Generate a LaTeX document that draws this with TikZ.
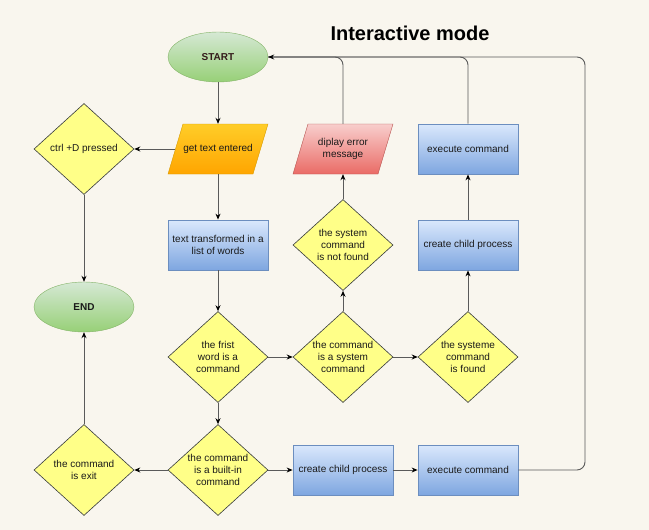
\documentclass[tikz,border=0pt]{standalone}
\usepackage{fontspec}
\setmainfont{Liberation Sans}
\usetikzlibrary{shapes.geometric,arrows.meta}
\definecolor{bg}{HTML}{F9F6EE}
\definecolor{gtop}{HTML}{D5E8D4}\definecolor{gbot}{HTML}{97D077}\definecolor{gline}{HTML}{82B366}
\definecolor{btop}{HTML}{DAE8FC}\definecolor{bbot}{HTML}{7EA6E0}\definecolor{bline}{HTML}{6C8EBF}
\definecolor{rtop}{HTML}{F8CECC}\definecolor{rbot}{HTML}{EA6B66}\definecolor{rline}{HTML}{B85450}
\definecolor{otop}{HTML}{FFCD28}\definecolor{obot}{HTML}{FFA500}\definecolor{oline}{HTML}{D79B00}
\definecolor{yfill}{HTML}{FFFF88}\definecolor{yline}{HTML}{36393D}
\definecolor{edge}{HTML}{5A5A5A}
\definecolor{txt}{HTML}{1A1A1A}
\begin{document}
\begin{tikzpicture}[x=1pt,y=-1pt,
  font=\fontsize{10}{12}\selectfont, text=txt,
  every node/.style={align=center},
  term/.style={ellipse,minimum width=100pt,minimum height=50pt,inner sep=0pt,top color=gtop,bottom color=gbot,draw=gline},
  procbox/.style={rectangle,minimum width=100pt,minimum height=50pt,inner sep=0pt,top color=btop,bottom color=bbot,draw=bline,line width=0.8pt},
  iobox/.style={rectangle,minimum width=85pt,minimum height=50pt,inner sep=0pt},
  decision/.style={diamond,minimum width=100pt,minimum height=91pt,inner sep=0pt,fill=yfill,draw=yline,line width=0.6pt},
  conn/.style={draw=edge,line width=0.9pt,-{Stealth[length=6pt,width=5pt,black]}},
  link/.style={draw=edge,line width=0.9pt,rounded corners=8pt}
]
\fill[bg] (0,0) rectangle (649,530);
\useasboundingbox (0,0) rectangle (649,530);

\node[font=\fontsize{20}{24}\selectfont\bfseries, text=black] (title) at (410,33) {Interactive mode};

% parallelogram shapes
\shade[top color=otop, bottom color=obot, draw=oline] (168,174) -- (253,174) -- (268,124) -- (183,124) -- cycle;
\shade[top color=rtop, bottom color=rbot, draw=rline] (293,174) -- (378,174) -- (393,124) -- (308,124) -- cycle;

\node[term, font=\fontsize{10}{12}\selectfont\bfseries, text={rgb,255:red,51;green,26;blue,26}] (start) at (218,57) {START};
\node[iobox] (get) at (218,149) {get text entered};
\node[decision] (ctrl) at (84,149) {};
\node at (ctrl) {ctrl +D pressed};
\node[term, font=\fontsize{10}{12}\selectfont\bfseries] (end) at (84,307) {END};
\node[procbox] (trans) at (218,245) {text transformed in a\\list of words};
\node[decision] (first) at (218,357) {};
\node at (first) {the frist\\word is a\\command};
\node[decision] (builtin) at (218,470) {};
\node at (builtin) {the command\\is a built-in\\command};
\node[decision] (exit) at (84,470) {};
\node at (exit) {the command\\is exit};
\node[procbox] (child2) at (343,470) {create child process};
\node[procbox] (exec2) at (468,470) {execute command};
\node[decision] (sys) at (343,357) {};
\node at (sys) {the command\\is a system\\command};
\node[decision] (notfound) at (343,245) {};
\node at (notfound) {the system\\command\\is not found};
\node[iobox] (err) at (343,149) {diplay error\\message};
\node[decision] (found) at (468,357) {};
\node at (found) {the systeme\\command\\is found};
\node[procbox] (child1) at (468,245) {create child process};
\node[procbox] (exec1) at (468,149) {execute command};

\coordinate (r1) at (585,470);
\coordinate (r2) at (585,57);

\draw[conn] (start) -- (get);
\draw[conn] (get) -- (ctrl);
\draw[conn] (ctrl) -- (end);
\draw[conn] (get) -- (trans);
\draw[conn] (trans) -- (first);
\draw[conn] (first) -- (sys);
\draw[conn] (sys) -- (notfound);
\draw[conn] (notfound) -- (err);
\draw[conn] (sys) -- (found);
\draw[conn] (found) -- (child1);
\draw[conn] (child1) -- (exec1);
\draw[conn] (first) -- (builtin);
\draw[conn] (builtin) -- (exit);
\draw[conn] (exit) -- (end);
\draw[conn] (builtin) -- (child2);
\draw[conn] (child2) -- (exec2);
\draw[link] (err.north) |- (start.east);
\draw[link] (exec1.north) |- (start.east);
\draw[link,-{Stealth[length=6pt,width=5pt,black]}] (exec2.east) -- (r1) -- (r2) -- (start.east);
\end{tikzpicture}
\end{document}
